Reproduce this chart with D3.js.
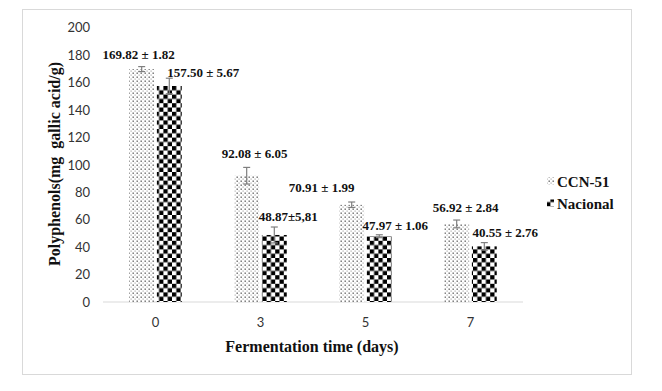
<!DOCTYPE html>
<html>
<head>
<meta charset="utf-8">
<script src="https://cdn.jsdelivr.net/npm/d3@7"></script>
<style>
  body { margin: 0; background: #fff; }
</style>
</head>
<body>
<div id="chart"></div>
<script>
// data
const days = ['0', '3', '5', '7'];
const series = ['CCN-51', 'Nacional'];
const ccn51 = [169.82, 92.08, 70.91, 56.92];
const ccn51Err = [1.82, 6.05, 1.99, 2.84];
const nacional = [157.50, 48.87, 47.97, 40.55];
const nacionalErr = [5.67, 5.81, 1.06, 2.76];
const ccn51Labels = ['169.82 ± 1.82', '92.08 ± 6.05', '70.91 ± 1.99', '56.92 ± 2.84'];
const nacionalLabels = ['157.50 ± 5.67', '48.87±5,81', '47.97 ± 1.06', '40.55 ± 2.76'];
const yTicks = [0, 20, 40, 60, 80, 100, 120, 140, 160, 180, 200];

// label nudges (dx, dy from top of error bar)
const ccn51Shift = [[-3, -8], [8, -9], [-30, -10], [9, -8]];
const nacionalShift = [[34, -1], [14, -6], [16, -5], [21, -6]];

const serif = "'Liberation Serif', 'Times New Roman', 'DejaVu Serif', serif";
const sans = "Lato, 'Open Sans', sans-serif";

const width = 662, height = 391;
const svg = d3.select('#chart').append('svg')
    .attr('width', width)
    .attr('height', height);

const defs = svg.append('defs');
const dots = defs.append('pattern')
    .attr('id', 'dots')
    .attr('patternUnits', 'userSpaceOnUse')
    .attr('width', 4).attr('height', 4);
dots.append('rect').attr('width', 4).attr('height', 4).attr('fill', '#fff');
dots.append('rect').attr('x', 0.5).attr('y', 0.5).attr('width', 1.4).attr('height', 1.4).attr('fill', '#666');
dots.append('rect').attr('x', 2.5).attr('y', 2.5).attr('width', 1.2).attr('height', 1.2).attr('fill', '#aaa');

const checks = defs.append('pattern')
    .attr('id', 'checks')
    .attr('patternUnits', 'userSpaceOnUse')
    .attr('width', 8.6).attr('height', 8.6);
checks.append('rect').attr('width', 8.6).attr('height', 8.6).attr('fill', '#fff');
checks.append('rect').attr('width', 4.3).attr('height', 4.3).attr('fill', '#000');
checks.append('rect').attr('x', 4.3).attr('y', 4.3).attr('width', 4.3).attr('height', 4.3).attr('fill', '#000');

// frame
svg.append('rect')
    .attr('x', 22.5).attr('y', 9.5)
    .attr('width', 609).attr('height', 365)
    .attr('fill', '#fff')
    .attr('stroke', '#d9d9d9');

const x0 = d3.scaleBand()
    .domain(days)
    .range([103, 523])
    .paddingInner(0.5)
    .paddingOuter(0.25);

const x1 = d3.scaleBand()
    .domain(series)
    .range([0, x0.bandwidth()])
    .paddingInner(0.1);

const y = d3.scaleLinear()
    .domain([0, 200])
    .range([302, 27.7]);

// y axis (labels only)
const yAxis = svg.append('g')
    .attr('transform', 'translate(103,0)')
    .call(d3.axisLeft(y).tickValues(yTicks).tickSize(0).tickPadding(13));
yAxis.select('.domain').remove();
yAxis.attr('font-family', sans).attr('font-size', 13);
yAxis.selectAll('.tick text').attr('fill', '#333');

// baseline
svg.append('line')
    .attr('x1', 103).attr('x2', 523)
    .attr('y1', y(0)).attr('y2', y(0))
    .attr('stroke', '#d9d9d9');

const xAxis = svg.append('g')
    .attr('transform', `translate(0,${y(0)})`)
    .call(d3.axisBottom(x0).tickSize(0).tickPadding(16));
xAxis.select('.domain').remove();
xAxis.attr('font-family', sans).attr('font-size', 13);
xAxis.selectAll('.tick text').attr('fill', '#333');

const groups = [
    { name: 'CCN-51', vals: ccn51, err: ccn51Err, labels: ccn51Labels, shift: ccn51Shift, fill: 'url(#dots)' },
    { name: 'Nacional', vals: nacional, err: nacionalErr, labels: nacionalLabels, shift: nacionalShift, fill: 'url(#checks)' }
];

groups.forEach(s => {
    const rows = days.map((d, i) => ({ day: d, v: s.vals[i], e: s.err[i], label: s.labels[i], sh: s.shift[i] }));
    const cx = d => x0(d.day) + x1(s.name) + x1.bandwidth() / 2;
    const g = svg.append('g');

    g.selectAll('rect')
        .data(rows)
        .enter()
        .append('rect')
        .attr('x', d => x0(d.day) + x1(s.name))
        .attr('y', d => y(d.v))
        .attr('width', x1.bandwidth())
        .attr('height', d => y(0) - y(d.v))
        .attr('fill', s.fill);

    // error bars
    const eb = g.selectAll('.err')
        .data(rows)
        .enter()
        .append('g')
        .attr('class', 'err')
        .attr('stroke', '#7f7f7f')
        .attr('stroke-width', 1.2);
    eb.append('line')
        .attr('x1', cx).attr('x2', cx)
        .attr('y1', d => y(d.v - d.e)).attr('y2', d => y(d.v + d.e));
    eb.append('line')
        .attr('x1', d => cx(d) - 3.5).attr('x2', d => cx(d) + 3.5)
        .attr('y1', d => y(d.v + d.e)).attr('y2', d => y(d.v + d.e));
    eb.append('line')
        .attr('x1', d => cx(d) - 3.5).attr('x2', d => cx(d) + 3.5)
        .attr('y1', d => y(d.v - d.e)).attr('y2', d => y(d.v - d.e));

    g.selectAll('.lbl')
        .data(rows)
        .enter()
        .append('text')
        .attr('class', 'lbl')
        .attr('x', d => cx(d) + d.sh[0])
        .attr('y', d => y(d.v + d.e) + d.sh[1])
        .attr('text-anchor', 'middle')
        .attr('font-family', serif)
        .attr('font-weight', 'bold')
        .attr('font-size', 13)
        .attr('fill', '#111')
        .text(d => d.label);
});

// axis titles
svg.append('text')
    .attr('x', 312).attr('y', 352)
    .attr('text-anchor', 'middle')
    .attr('font-family', serif)
    .attr('font-weight', 'bold')
    .attr('font-size', 16)
    .attr('fill', '#111')
    .text('Fermentation time (days)');

svg.append('text')
    .attr('transform', 'translate(60,164) rotate(-90)')
    .attr('text-anchor', 'middle')
    .attr('font-family', serif)
    .attr('font-weight', 'bold')
    .attr('font-size', 16)
    .attr('fill', '#111')
    .style('white-space', 'pre')
    .text('Polyphenols(mg  gallic acid/g)');

// legend
const legend = svg.append('g');
groups.forEach((s, i) => {
    const ly = 186.5 + i * 22;
    legend.append('rect')
        .attr('x', 547).attr('y', ly - 9)
        .attr('width', 7).attr('height', 7)
        .attr('fill', s.fill);
    legend.append('text')
        .attr('x', 557).attr('y', ly)
        .attr('font-family', serif)
        .attr('font-weight', 'bold')
        .attr('font-size', 15)
        .attr('fill', '#111')
        .text(s.name);
});
</script>
</body>
</html>
